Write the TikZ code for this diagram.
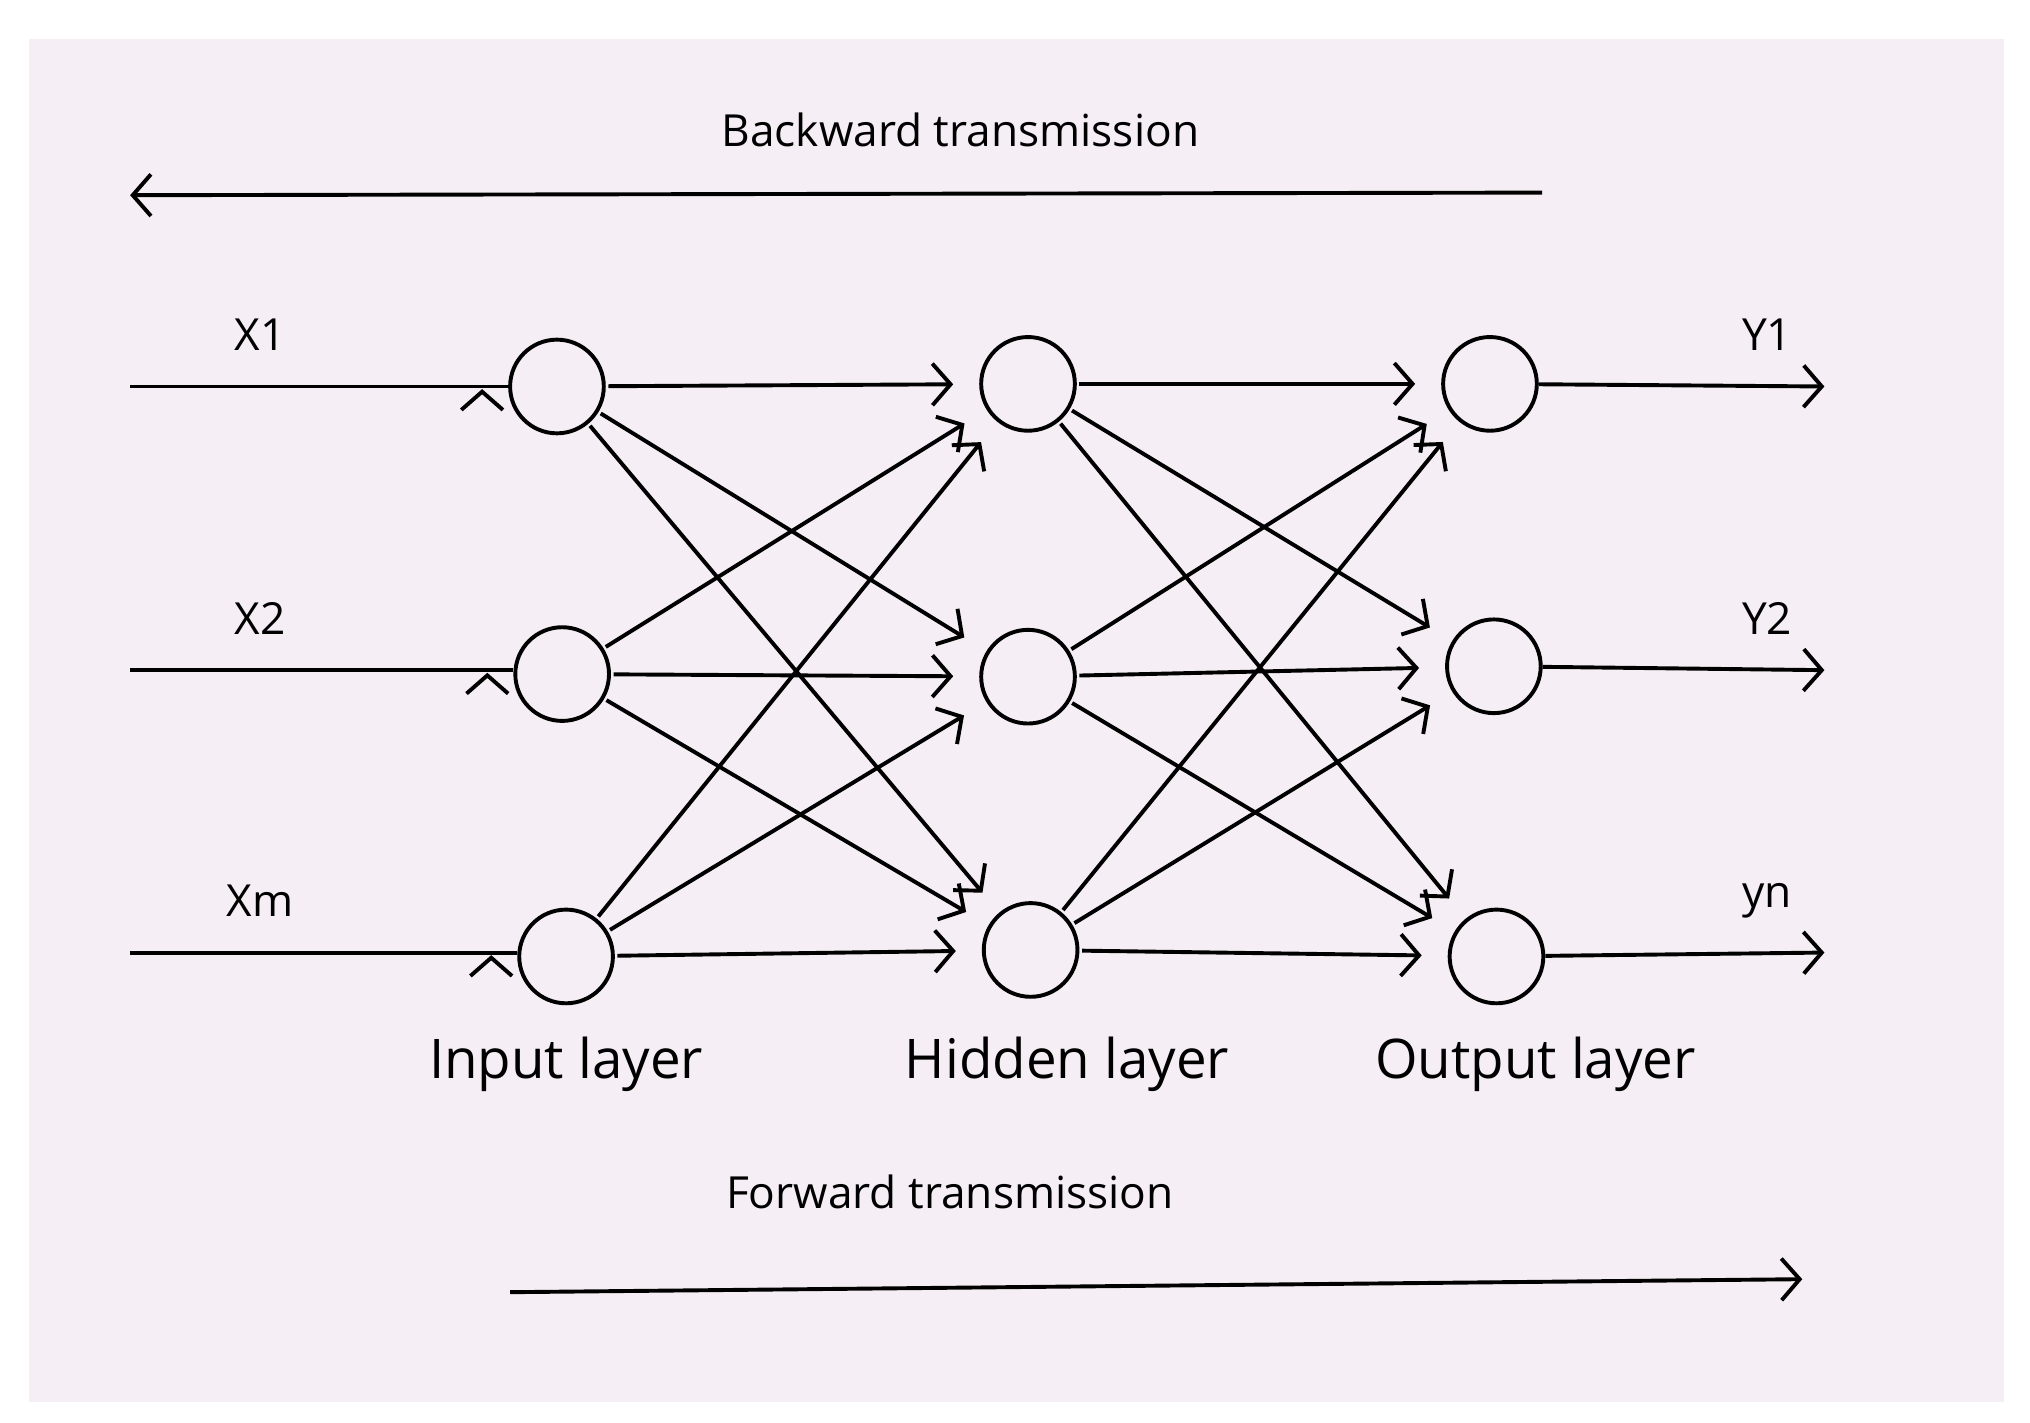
\documentclass[tikz,border=0pt]{standalone}
\usepackage{fontspec}
\setmainfont{Open Sans}
\usetikzlibrary{arrows.meta}
\definecolor{bg}{HTML}{F5EEF4}
\begin{document}
\begin{tikzpicture}[x=1pt,y=-1pt,
  neu/.style={circle,draw,line width=3pt,minimum size=72pt,inner sep=0pt},
  arr/.style={line width=3pt,-{Straight Barb[length=14pt,width=32pt,line width=3pt]}},
  lab/.style={font=\fontsize{34}{36}\selectfont},
  big/.style={font=\fontsize{42}{44}\selectfont}]
\useasboundingbox (0,0) rectangle (1560,1093);
\fill[bg] (22,30) rectangle (1540,1077);
\node[neu] (i1) at (428,297) {};
\node[neu] (i2) at (432,518) {};
\node[neu] (i3) at (435,735) {};
\node[neu] (h1) at (790,295) {};
\node[neu] (h2) at (790,520) {};
\node[neu] (h3) at (792,730) {};
\node[neu] (o1) at (1145,295) {};
\node[neu] (o2) at (1148,512) {};
\node[neu] (o3) at (1150,735) {};
\foreach \y/\n/\t in {297/1/X1,515/2/X2,732/3/Xm}{
  \coordinate (s\n) at (100,\y);
  \draw[arr,shorten >=2pt] (s\n) -- (i\n.west |- s\n) ++(-20,0);
  \node[lab] (xl\n) at (200,\y-40) {\t};
}
\foreach \y/\n/\t in {297/1/Y1,515/2/Y2,732/3/yn}{
  \coordinate (e\n) at (1402,\y);
  \draw[arr] (o\n) -- (e\n);
  \node[lab] (yl\n) at (1358,\y-40) {\t};
}
\foreach \a in {1,2,3}{\foreach \b in {1,2,3}{
  \draw[arr,shorten >=20pt,shorten <=2pt] (i\a) -- (h\b);
  \draw[arr,shorten >=20pt,shorten <=2pt] (h\a) -- (o\b);
}}
\node[big] (il) at (435,818) {Input layer};
\node[big] (hl) at (820,818) {Hidden layer};
\node[big] (ol) at (1180,818) {Output layer};
\coordinate (b1) at (1185,148); \coordinate (b2) at (100,150);
\draw[arr] (b1) -- (b2);
\node[lab] (bt) at (738,100) {Backward transmission};
\coordinate (f1) at (392,993); \coordinate (f2) at (1385,983);
\draw[arr] (f1) -- (f2);
\node[lab] (ft) at (730,916) {Forward transmission};
\end{tikzpicture}
\end{document}
